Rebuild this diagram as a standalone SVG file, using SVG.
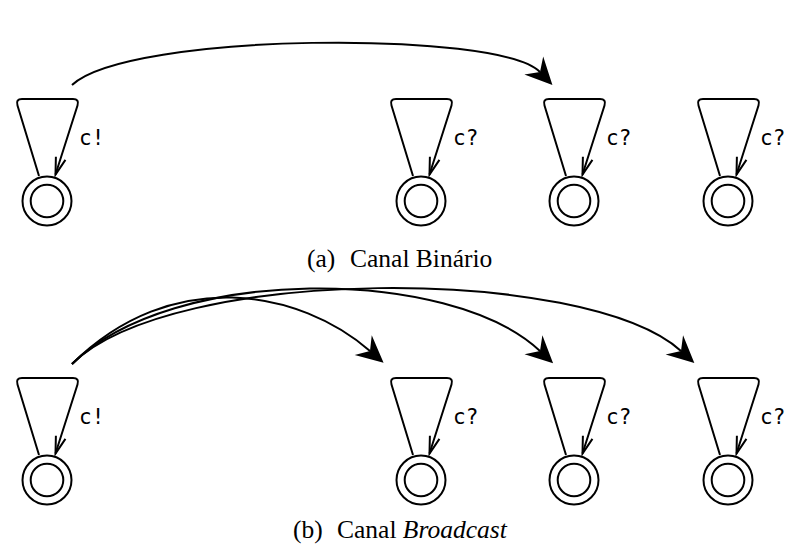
<svg xmlns="http://www.w3.org/2000/svg" xmlns:xlink="http://www.w3.org/1999/xlink" width="789" height="552" viewBox="0 0 789 552">
  <style>
    .loop { fill: none; stroke: #000; stroke-width: 2; stroke-linejoin: round; marker-end: url(#open); }
    .ring { fill: #fff; stroke: #000; stroke-width: 2; }
    .lbl { font-family: "DejaVu Sans Mono", "Liberation Mono", monospace; font-size: 21px; fill: #000; }
    .edge { fill: none; stroke: #000; stroke-width: 2; marker-end: url(#solid); }
    .cap { font-family: "Liberation Serif", "Times New Roman", serif; font-size: 25.5px; fill: #000; }
  </style>
  <defs>
    <!-- open V head for the self-loops -->
    <marker id="open" markerUnits="userSpaceOnUse" orient="auto" refX="0" refY="0" markerWidth="40" markerHeight="40" overflow="visible">
      <path d="M-17,-5 L0,0 L-17,5" fill="none" stroke="#000" stroke-width="2" stroke-linejoin="miter"/>
    </marker>
    <!-- filled barbed head for synchronisation arcs; tip sits 18 units past the path end -->
    <marker id="solid" markerUnits="userSpaceOnUse" orient="auto" refX="0" refY="0" markerWidth="60" markerHeight="60" overflow="visible">
      <path d="M18,0 L-9,-13 L0,0 L-9,13 Z" fill="#000"/>
    </marker>
    <!-- location: double circle with a self-loop -->
    <g id="loc">
      <path class="loop" d="M-8,-25 L-29.5,-95.5 Q-31.5,-102 -25,-102 L26,-102 Q32.5,-102 30.5,-95.5 L8.5,-26.5"/>
      <circle class="ring" cx="0" cy="0" r="24.5"/>
      <circle class="ring" cx="0" cy="0" r="16.3"/>
    </g>
  </defs>

  <!-- (a) binary channel -->
  <g id="a-sender"><use xlink:href="#loc" x="47" y="201"/><text class="lbl" x="79" y="145">c!</text></g>
  <g id="a-recv1"><use xlink:href="#loc" x="421" y="201"/><text class="lbl" x="453" y="145">c?</text></g>
  <g id="a-recv2"><use xlink:href="#loc" x="574" y="201"/><text class="lbl" x="606" y="145">c?</text></g>
  <g id="a-recv3"><use xlink:href="#loc" x="728" y="201"/><text class="lbl" x="760" y="145">c?</text></g>
  <g id="a-edges">
    <path class="edge" d="M72,85 C128,32 500,30 540,72"/>
  </g>
  <text class="cap" x="307" y="267">(a)<tspan x="350">Canal Binário</tspan></text>

  <!-- (b) broadcast channel -->
  <g id="b-sender"><use xlink:href="#loc" x="47" y="480"/><text class="lbl" x="79" y="424">c!</text></g>
  <g id="b-recv1"><use xlink:href="#loc" x="421" y="480"/><text class="lbl" x="453" y="424">c?</text></g>
  <g id="b-recv2"><use xlink:href="#loc" x="574" y="480"/><text class="lbl" x="606" y="424">c?</text></g>
  <g id="b-recv3"><use xlink:href="#loc" x="728" y="480"/><text class="lbl" x="760" y="424">c?</text></g>
  <g id="b-edges">
    <path class="edge" d="M72,364 C172,265 300,290 370,351"/>
    <path class="edge" d="M72,364 C172,265 450,266 540,351"/>
    <path class="edge" d="M72,364 C172,265 586,265 681,351"/>
  </g>
  <text class="cap" x="293" y="538">(b)<tspan x="337">Canal </tspan><tspan font-style="italic">Broadcast</tspan></text>
</svg>
